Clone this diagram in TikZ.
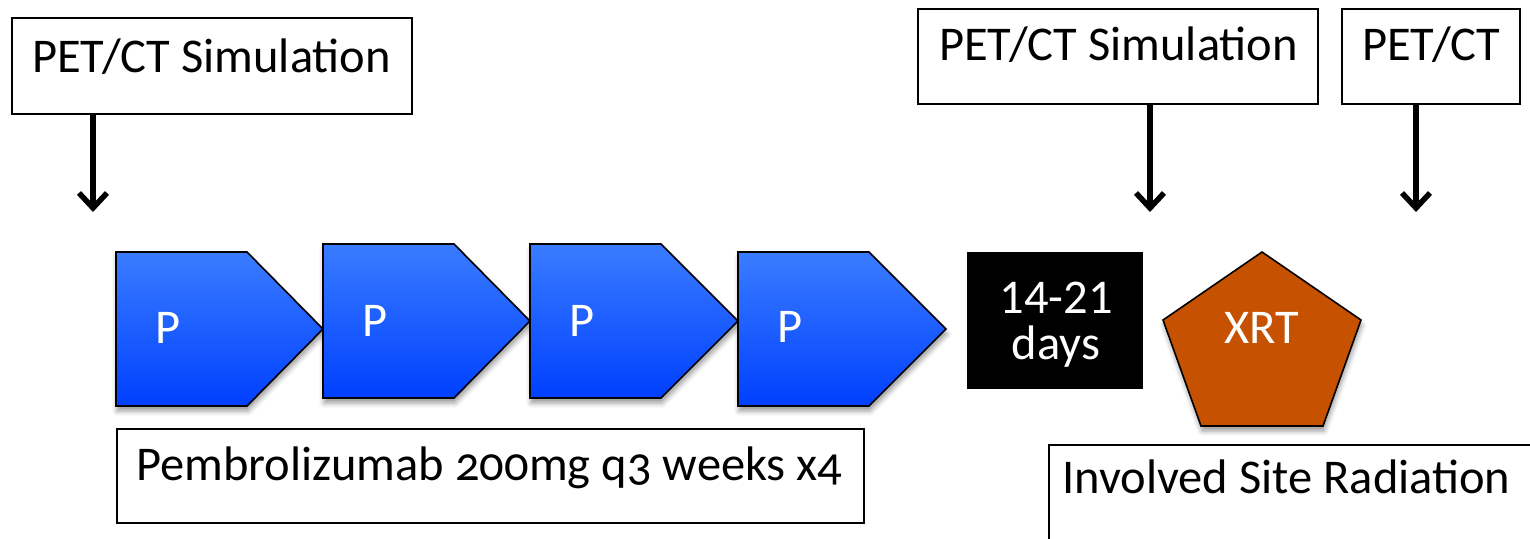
\documentclass[tikz,border=0pt]{standalone}
\usepackage{fontspec}
\setmainfont{Carlito}
\usetikzlibrary{arrows.meta,shadows.blur}
\definecolor{pblueA}{RGB}{58,124,255}
\definecolor{pblueB}{RGB}{0,64,255}
\definecolor{xrtc}{RGB}{198,81,0}
\tikzset{
  lbl/.style={font=\fontsize{48.5}{46}\selectfont, inner sep=0pt, anchor=base west},
  clbl/.style={font=\fontsize{48.5}{46}\selectfont, inner sep=0pt, anchor=base, text=white},
  boxst/.style={draw=black, line width=1.6pt, fill=white, inner sep=0pt, anchor=north west},
  softshadow/.style={blur shadow={shadow xshift=1pt, shadow yshift=-5pt, shadow blur radius=5pt, shadow opacity=40}},
  pshape/.style={draw=black, line width=1.6pt, top color=pblueA, bottom color=pblueB, softshadow},
  downarrow/.style={line width=5.5pt, -{Straight Barb[length=15pt,width=28pt]}},
}
\begin{document}
\begin{tikzpicture}[x=1pt,y=-1pt]
\useasboundingbox (0,0) rectangle (1530,538);
\clip (0,0) rectangle (1530,538);

% top boxes
\node[boxst, minimum width=400pt, minimum height=96pt] (b1) at (11,17) {};
\node[lbl] (t1) at (32,72) {PET/CT Simulation};
\node[boxst, minimum width=400pt, minimum height=95pt] (b2) at (917,8) {};
\node[lbl] (t2) at (939,60) {PET/CT Simulation};
\node[boxst, minimum width=178pt, minimum height=95pt] (b3) at (1341,8) {};
\node[lbl] (t3) at (1362,60) {PET/CT};

% arrows
\coordinate (e1) at (93,212);
\coordinate (e2) at (1150,212);
\coordinate (e3) at (1416,212);
\draw[downarrow] (b1.south -| e1) -- (e1);
\draw[downarrow] (b2.south -| e2) -- (e2);
\draw[downarrow] (b3.south -| e3) -- (e3);

% P shapes
\path[pshape] (116,252) -- (247,252) -- (323,329) -- (247,406) -- (116,406) -- cycle;
\node[lbl, text=white] (p1) at (155,343) {P};
\path[pshape] (323,244) -- (454,244) -- (530,321) -- (454,398) -- (323,398) -- cycle;
\node[lbl, text=white] (p2) at (362,336) {P};
\path[pshape] (530,244) -- (661,244) -- (738,321) -- (661,398) -- (530,398) -- cycle;
\node[lbl, text=white] (p3) at (569,336) {P};
\path[pshape] (738,252) -- (869,252) -- (946,329) -- (869,406) -- (738,406) -- cycle;
\node[lbl, text=white] (p4) at (777,342) {P};

% 14-21 days
\node[fill=black, inner sep=0pt, anchor=north west, minimum width=176pt, minimum height=137pt] (d) at (967,252) {};
\node[clbl] (d1) at (1056,313) {14-21};
\node[clbl] (d2) at (1056,359) {days};

% XRT pentagon
\path[draw=black, line width=1.6pt, fill=xrtc, softshadow] (1262,252) -- (1361,320) -- (1323,426) -- (1201,426) -- (1163,320) -- cycle;
\node[clbl] (x) at (1262,343) {XRT};

% bottom boxes
\node[boxst, minimum width=747pt, minimum height=94pt] (pb) at (116,428) {};
\node[lbl] (pt) at (136,480) {\addfontfeatures{Numbers=OldStyle}Pembrolizumab 200mg q3 weeks x4};
\node[boxst, minimum width=540pt, minimum height=140pt] (ib) at (1048,444) {};
\node[lbl] (it) at (1062,493) {Involved Site Radiation};
\end{tikzpicture}
\end{document}
